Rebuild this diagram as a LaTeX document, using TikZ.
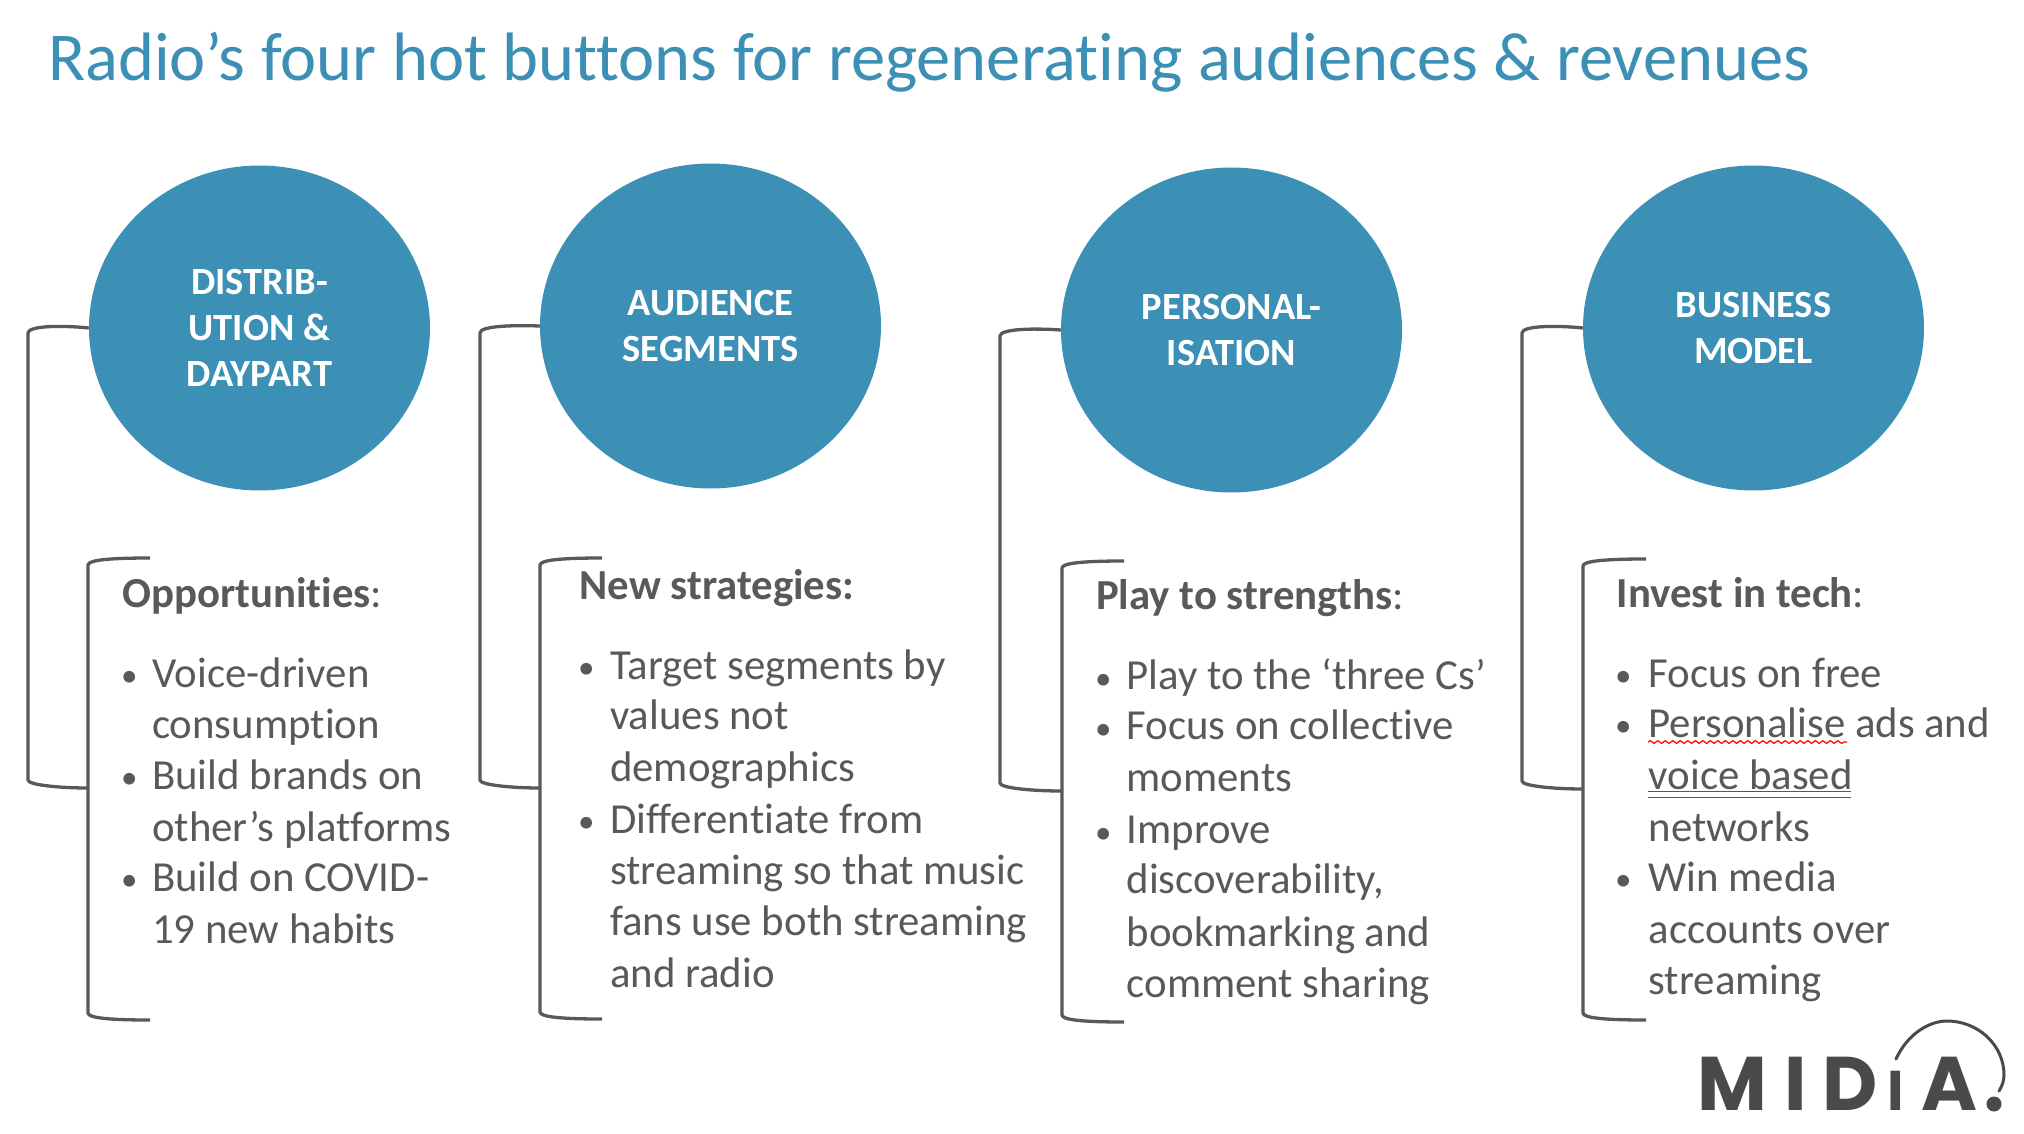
\documentclass[tikz,border=0pt]{standalone}
\usepackage{fontspec}
\setmainfont{Carlito}[Ligatures={NoCommon}]
\newfontfamily\logofont{Poppins}
\usetikzlibrary{shapes.geometric,decorations.pathmorphing}
\definecolor{hotblue}{HTML}{3C8FB5}
\definecolor{bodygrey}{HTML}{595959}
\definecolor{logogrey}{HTML}{4A4A4A}
\definecolor{grammarblue}{HTML}{1A5FD0}
\tikzset{
  hotcircle/.style={ellipse,fill=hotblue,draw=none,inner sep=0pt,minimum width=341pt,minimum height=325pt,
    text=white,align=center,font=\fontsize{38.5}{46}\selectfont\bfseries},
  bodyline/.style={anchor=base west,inner sep=0pt,text=bodygrey,yshift=-1.2pt,font=\fontsize{42.8}{48}\selectfont},
  bulletmark/.style={anchor=base west,inner sep=0pt,text=bodygrey,yshift=-1.2pt,font=\fontsize{33}{40}\selectfont},
  headline/.style={bodyline},
  titleline/.style={anchor=base west,inner sep=0pt,text=hotblue,font=\fontsize{68.5}{72}\selectfont},
  bracketline/.style={draw=bodygrey,line width=3.3pt,line join=round},
  logoletter/.style={anchor=base west,inner sep=0pt,text=logogrey,font=\logofont\fontsize{76}{80}\selectfont\bfseries},
  logosmall/.style={logoletter,font=\logofont\fontsize{56}{60}\selectfont\bfseries},
  logoarc/.style={draw=logogrey,line width=3pt,line cap=round},
  spellmark/.style={draw=red,line width=1.2pt,decorate,decoration={snake,amplitude=1.4pt,segment length=7.5pt}},
  grammarmark/.style={draw=grammarblue,line width=1.8pt}
}
\begin{document}
\begin{tikzpicture}[x=1pt,y=-1pt]
\useasboundingbox (0,0) rectangle (2024,1134);
\fill[white] (0,0) rectangle (2024,1134);

\node[titleline] (title) at (48,80.5) {Radio’s four hot buttons for regenerating audiences \& revenues};

\node[hotcircle] (c1) at (259.5,328) {DISTRIB-\\UTION \&\\DAYPART};
\node[hotcircle] (c2) at (710.5,326) {AUDIENCE\\SEGMENTS};
\node[hotcircle] (c3) at (1231.5,330) {PERSONAL-\\ISATION};
\node[hotcircle] (c4) at (1753.5,328) {BUSINESS\\MODEL};

% column 1 brackets
\coordinate (b1in) at (88,788);
\coordinate (b1a) at (150,558);
\coordinate (b1b) at (150,1020);
\draw[bracketline] (c1.west) .. controls (60,325) and (28,326) .. (28,333) -- (28,780) .. controls (28,785) and (60,788) .. (b1in);
\draw[bracketline] (b1a) .. controls (110,558) and (88,560) .. (88,565) -- (88,1013) .. controls (88,1018) and (110,1020) .. (b1b);
% column 2
\coordinate (b2in) at (540,788);
\coordinate (b2a) at (602,558);
\coordinate (b2b) at (602,1019);
\draw[bracketline] (c2.west) .. controls (512,325) and (480,326) .. (480,333) -- (480,780) .. controls (480,785) and (512,788) .. (b2in);
\draw[bracketline] (b2a) .. controls (562,558) and (540,560) .. (540,565) -- (540,1012) .. controls (540,1017) and (562,1019) .. (b2b);
% column 3
\coordinate (b3in) at (1062,791);
\coordinate (b3a) at (1124,561);
\coordinate (b3b) at (1124,1022);
\draw[bracketline] (c3.west) .. controls (1032,328) and (1000,329) .. (1000,336) -- (1000,783) .. controls (1000,788) and (1032,791) .. (b3in);
\draw[bracketline] (b3a) .. controls (1084,561) and (1062,563) .. (1062,568) -- (1062,1015) .. controls (1062,1020) and (1084,1022) .. (b3b);
% column 4
\coordinate (b4in) at (1583,789);
\coordinate (b4a) at (1646,559);
\coordinate (b4b) at (1646,1020);
\draw[bracketline] (c4.west) .. controls (1554,325) and (1522,326) .. (1522,333) -- (1522,781) .. controls (1522,786) and (1554,789) .. (b4in);
\draw[bracketline] (b4a) .. controls (1605,559) and (1583,561) .. (1583,566) -- (1583,1013) .. controls (1583,1018) and (1605,1020) .. (b4b);

% column 1 text
\node[headline] (h1) at (122,606) {\textbf{Opportunities}:};
\node[bulletmark] (b1s1) at (121,685) {•};
\node[bodyline] (l1s1) at (152,686) {Voice-driven};
\node[bodyline] (l1s2) at (152,737) {consumption};
\node[bulletmark] (b1s2) at (121,787) {•};
\node[bodyline] (l1s3) at (152,788) {Build brands on};
\node[bodyline] (l1s4) at (152,840) {other’s platforms};
\node[bulletmark] (b1s3) at (121,889) {•};
\node[bodyline] (l1s5) at (152,890) {Build on COVID-};
\node[bodyline] (l1s6) at (152,942) {19 new habits};

% column 2 text
\node[headline] (h2) at (579.5,598) {\textbf{New strategies:}};
\node[bulletmark] (b2s1) at (578,677) {•};
\node[bodyline] (l2s1) at (610,678) {Target segments by};
\node[bodyline] (l2s2) at (610,728) {values not};
\node[bodyline] (l2s3) at (610,780) {demographics};
\node[bulletmark] (b2s2) at (578,831) {•};
\node[bodyline] (l2s4) at (610,832) {Differentiate from};
\node[bodyline] (l2s5) at (610,883) {streaming so that music};
\node[bodyline] (l2s6) at (610,934) {fans use both streaming};
\node[bodyline] (l2s7) at (610,986) {and radio};

% column 3 text
\node[headline] (h3) at (1096,608.5) {\textbf{Play to strengths}:};
\node[bulletmark] (b3s1) at (1095,688) {•};
\node[bodyline] (l3s1) at (1126.5,688.5) {Play to the ‘three Cs’};
\node[bulletmark] (b3s2) at (1095,738) {•};
\node[bodyline] (l3s2) at (1126.5,738.5) {Focus on collective};
\node[bodyline] (l3s3) at (1126.5,790.5) {moments};
\node[bulletmark] (b3s3) at (1095,842) {•};
\node[bodyline] (l3s4) at (1126.5,842.5) {Improve};
\node[bodyline] (l3s5) at (1126.5,892.5) {discoverability,};
\node[bodyline] (l3s6) at (1126.5,945) {bookmarking and};
\node[bodyline] (l3s7) at (1126.5,996.5) {comment sharing};

% column 4 text
\node[headline] (h4) at (1616.5,606) {\textbf{Invest in tech}:};
\node[bulletmark] (b4s1) at (1615,685) {•};
\node[bodyline] (l4s1) at (1648.5,686) {Focus on free};
\node[bulletmark] (b4s2) at (1615,735) {•};
\node[bodyline] (l4s2) at (1648.5,736) {Personalise ads and};
\node[bodyline] (l4s3) at (1648.5,788) {voice based};
\node[bodyline] (l4s4) at (1648.5,840) {networks};
\node[bulletmark] (b4s3) at (1615,889) {•};
\node[bodyline] (l4s5) at (1648.5,890) {Win media};
\node[bodyline] (l4s6) at (1648.5,942) {accounts over};
\node[bodyline] (l4s7) at (1648.5,993.5) {streaming};

% proofing marks
\coordinate (sq1) at (1648,742);
\coordinate (sq2) at (1847,742);
\draw[spellmark] (sq1) -- (sq2);
\coordinate (ga1) at (1648,791.5);
\coordinate (ga2) at (1851,791.5);
\coordinate (gb1) at (1648,797.5);
\coordinate (gb2) at (1851,797.5);
\draw[grammarmark] (ga1) -- (ga2);
\draw[grammarmark] (gb1) -- (gb2);

% logo
\node[logoletter] (lm) at (1697,1110) {M};
\node[logoletter] (li) at (1784,1110) {I};
\node[logoletter] (ld) at (1822,1110) {D};
\node[logosmall] (li2) at (1887,1110) {I};
\node[logoletter] (la) at (1921,1110) {A};
\coordinate (arcstart) at (1896,1059);
\coordinate (arcend) at (1999,1091);
\draw[logoarc] (arcstart) .. controls (1908,1033) and (1930,1021) .. (1947,1021)
   .. controls (1978,1021) and (2004,1045) .. (2004,1075) .. controls (2004,1081) and (2002,1086) .. (arcend);
\fill[logogrey] (1994,1104) circle (7.5);
\end{tikzpicture}
\end{document}
